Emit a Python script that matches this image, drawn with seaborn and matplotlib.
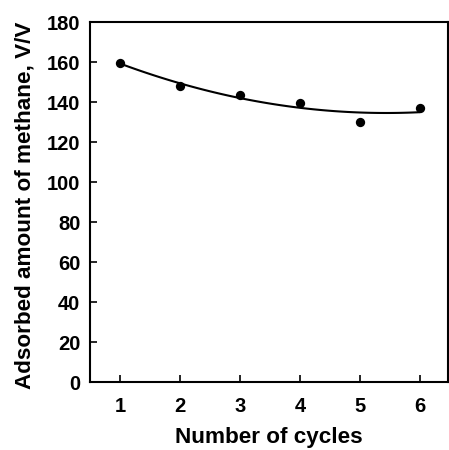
import matplotlib
matplotlib.use("Agg")
import matplotlib.pyplot as plt
import seaborn as sns
import pandas as pd

cycles = [1, 2, 3, 4, 5, 6]
adsorbed = [159.3, 148.0, 143.7, 139.3, 130.2, 136.8]
y_ticks = [0, 20, 40, 60, 80, 100, 120, 140, 160, 180]

sns.set_style("ticks")
plt.rcParams['font.family'] = ['Liberation Sans', 'DejaVu Sans']
plt.rcParams['font.weight'] = 'bold'
plt.rcParams['text.color'] = 'black'
plt.rcParams['axes.labelcolor'] = 'black'
plt.rcParams['xtick.color'] = 'black'
plt.rcParams['ytick.color'] = 'black'

df = pd.DataFrame({"cycles": cycles, "adsorbed": adsorbed})

fig = plt.figure(figsize=(4.49, 4.50), dpi=100)
ax = fig.add_axes([90/449, 68/450, 358/449, 360/450])

sns.regplot(data=df, x="cycles", y="adsorbed", order=2, ci=None, ax=ax,
            scatter_kws=dict(color="black", s=45, edgecolor="black", linewidths=0,
                             alpha=1, zorder=3),
            line_kws=dict(color="black", lw=1.5))

ax.set_xlim(0.5, 6.47)
ax.set_ylim(0, 180)
ax.set_yticks(y_ticks)
ax.set_xticks(cycles)
ax.tick_params(direction="in", length=5, width=1.2, labelsize=14.5, colors="black")
ax.tick_params(axis="y", pad=7)
ax.tick_params(axis="x", pad=11)
for lab in ax.get_xticklabels() + ax.get_yticklabels():
    lab.set_fontweight("bold")
for sp in ax.spines.values():
    sp.set_visible(True)
    sp.set_linewidth(1.5)
    sp.set_color("black")

ax.set_xlabel("Number of cycles", fontsize=16.2, fontweight="bold", color="black")
ax.set_ylabel("Adsorbed amount of methane, V/V", fontsize=16.2, fontweight="bold", color="black")
ax.xaxis.set_label_coords(0.5, -0.125)
ax.yaxis.set_label_coords(-0.152, 0.49)

fig.savefig("out.png", dpi=100)
